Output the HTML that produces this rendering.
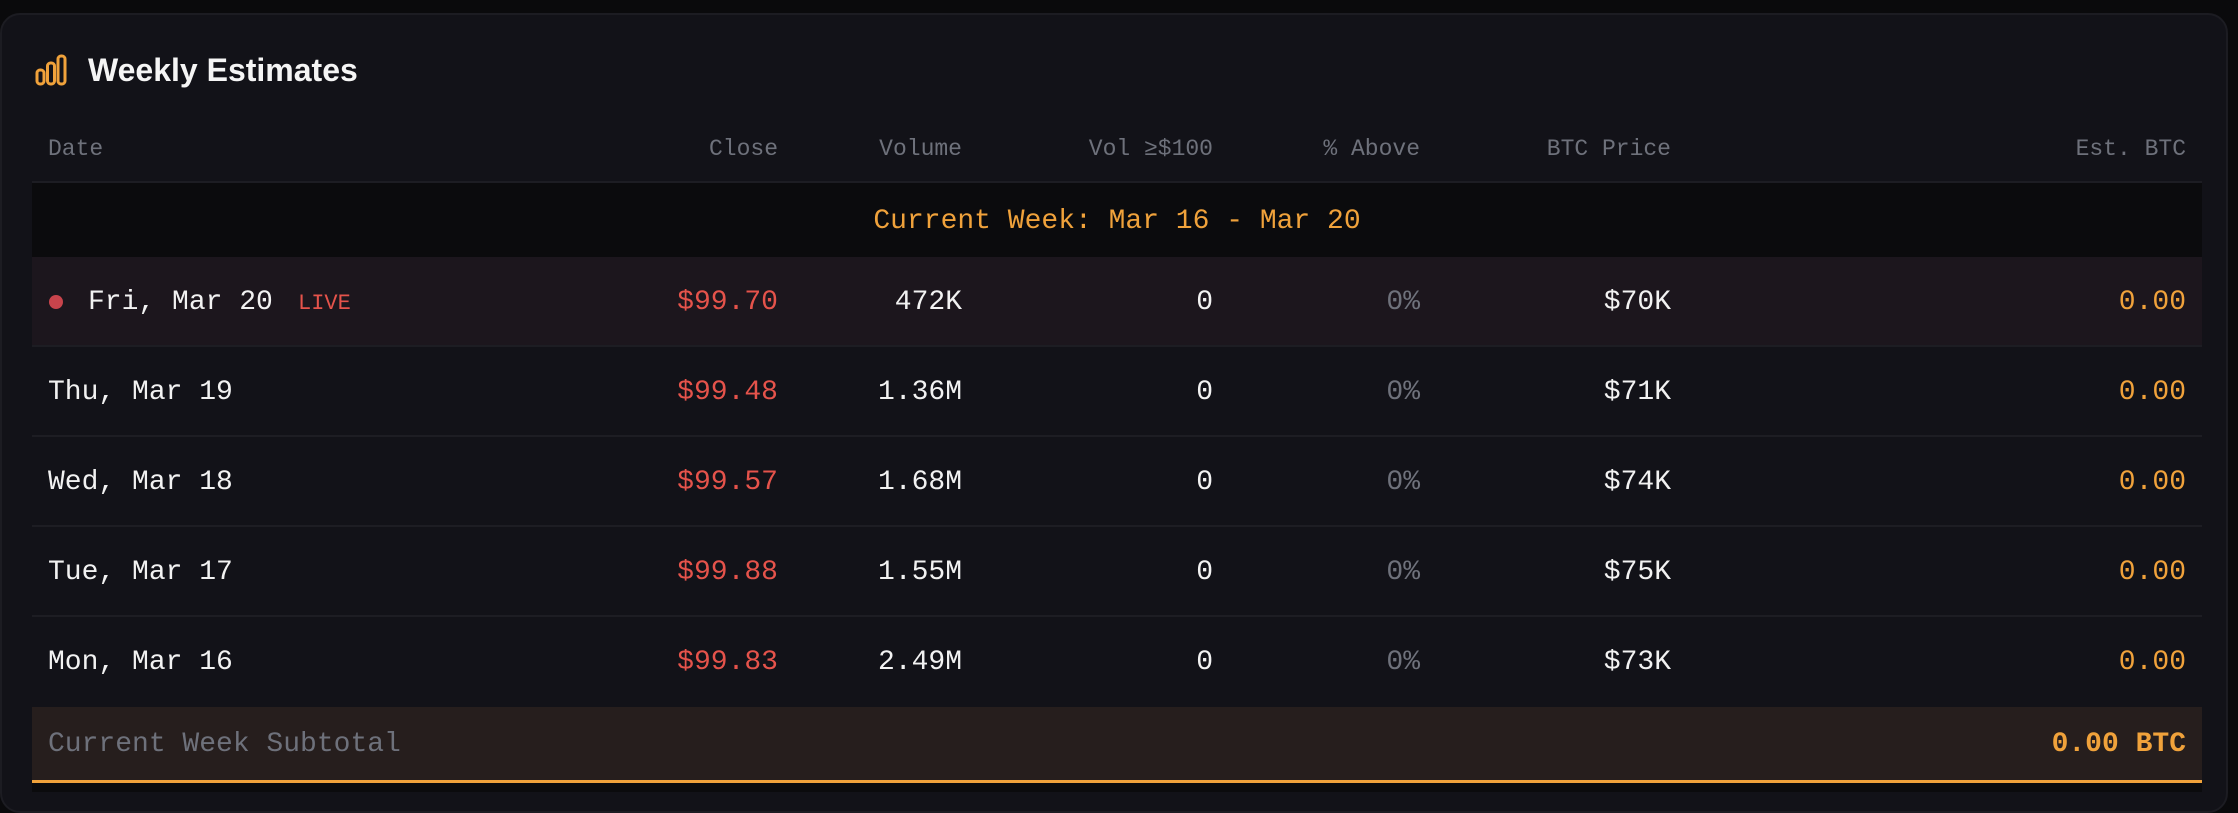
<!DOCTYPE html>
<html><head><meta charset="utf-8"><style>
*{margin:0;padding:0;box-sizing:border-box}
body{width:2238px;height:792px;background:#0a0a0c;overflow:hidden;font-family:"Liberation Mono","DejaVu Sans Mono",monospace;position:relative}
.card{position:absolute;left:0;top:13px;width:2228px;height:800px;background:#121218;border:2px solid #1c1c22;border-radius:20px}
.t{position:absolute;white-space:nowrap}
.row{position:absolute;left:32px;width:2170px;border-bottom:2px solid #1d1d23}
.c{position:absolute;top:0;white-space:nowrap;font-size:28px}
.r{text-align:right}
.w{color:#f2f2f2}.red{color:#e5534b}.g{color:#6e717b}.o{color:#f0a23b}
</style></head><body>
<div class="card"></div>
<svg style="position:absolute;left:34px;top:53px" width="34" height="34" viewBox="0 0 34 34" fill="none" stroke="#f0a23b" stroke-width="3"><rect x="3" y="17" width="7" height="14" rx="3"/><rect x="13.5" y="10" width="7" height="21" rx="3"/><rect x="24" y="3" width="7" height="28" rx="3"/></svg>
<div class="t w" style="left:88px;top:52px;font-family:'Liberation Sans',sans-serif;font-weight:bold;font-size:32px;color:#f5f5f5">Weekly Estimates</div>

<div class="row" style="top:128px;height:55px">
<div class="c g" style="left:16px;top:8px;font-size:23px">Date</div>
<div class="c g r" style="right:1424px;top:8px;font-size:23px">Close</div>
<div class="c g r" style="right:1240px;top:8px;font-size:23px">Volume</div>
<div class="c g r" style="right:989px;top:8px;font-size:23px">Vol ≥$100</div>
<div class="c g r" style="right:782px;top:8px;font-size:23px">% Above</div>
<div class="c g r" style="right:531px;top:8px;font-size:23px">BTC Price</div>
<div class="c g r" style="right:16px;top:8px;font-size:23px">Est. BTC</div>
</div>

<div class="row" style="top:183px;height:74px;background:#0b0b0d;border-bottom:none">
<div class="c o" style="left:0;width:2170px;text-align:center;top:23px;font-size:28px">Current Week: Mar 16 - Mar 20</div>
</div>

<div class="row" style="top:257px;height:90px;background:#1c161d">
<div style="position:absolute;left:17px;top:38px;width:14px;height:14px;border-radius:50%;background:#c8444c"></div>
<div class="c w" style="left:56px;top:30px">Fri, Mar 20</div>
<div class="c red" style="left:266px;top:34px;font-size:22px">LIVE</div>
<div class="c red r" style="right:1424px;top:30px">$99.70</div>
<div class="c w r" style="right:1240px;top:30px">472K</div>
<div class="c w r" style="right:989px;top:30px">0</div>
<div class="c g r" style="right:782px;top:30px">0%</div>
<div class="c w r" style="right:531px;top:30px">$70K</div>
<div class="c o r" style="right:16px;top:30px">0.00</div>
</div>

<div class="row" style="top:347px;height:90px">
<div class="c w" style="left:16px;top:30px">Thu, Mar 19</div>
<div class="c red r" style="right:1424px;top:30px">$99.48</div>
<div class="c w r" style="right:1240px;top:30px">1.36M</div>
<div class="c w r" style="right:989px;top:30px">0</div>
<div class="c g r" style="right:782px;top:30px">0%</div>
<div class="c w r" style="right:531px;top:30px">$71K</div>
<div class="c o r" style="right:16px;top:30px">0.00</div>
</div>
<div class="row" style="top:437px;height:90px">
<div class="c w" style="left:16px;top:30px">Wed, Mar 18</div>
<div class="c red r" style="right:1424px;top:30px">$99.57</div>
<div class="c w r" style="right:1240px;top:30px">1.68M</div>
<div class="c w r" style="right:989px;top:30px">0</div>
<div class="c g r" style="right:782px;top:30px">0%</div>
<div class="c w r" style="right:531px;top:30px">$74K</div>
<div class="c o r" style="right:16px;top:30px">0.00</div>
</div>
<div class="row" style="top:527px;height:90px">
<div class="c w" style="left:16px;top:30px">Tue, Mar 17</div>
<div class="c red r" style="right:1424px;top:30px">$99.88</div>
<div class="c w r" style="right:1240px;top:30px">1.55M</div>
<div class="c w r" style="right:989px;top:30px">0</div>
<div class="c g r" style="right:782px;top:30px">0%</div>
<div class="c w r" style="right:531px;top:30px">$75K</div>
<div class="c o r" style="right:16px;top:30px">0.00</div>
</div>
<div class="row" style="top:617px;height:90px;border-bottom:none">
<div class="c w" style="left:16px;top:30px">Mon, Mar 16</div>
<div class="c red r" style="right:1424px;top:30px">$99.83</div>
<div class="c w r" style="right:1240px;top:30px">2.49M</div>
<div class="c w r" style="right:989px;top:30px">0</div>
<div class="c g r" style="right:782px;top:30px">0%</div>
<div class="c w r" style="right:531px;top:30px">$73K</div>
<div class="c o r" style="right:16px;top:30px">0.00</div>
</div>

<div class="row" style="top:707px;height:76px;background:#261e1d;border-bottom:3px solid #f0a23b">
<div class="c g" style="left:16px;top:22px">Current Week Subtotal</div>
<div class="c o r" style="right:16px;top:22px;font-weight:bold">0.00 BTC</div>
</div>
<div style="position:absolute;left:32px;top:783px;width:2170px;height:9px;background:#0b0b0d"></div>
</body></html>
